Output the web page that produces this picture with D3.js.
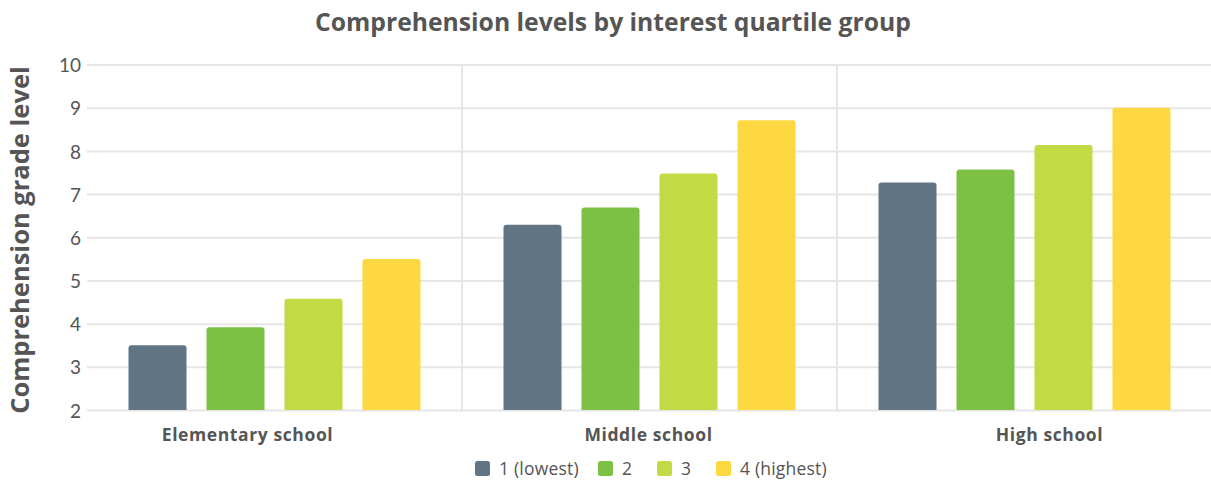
<!DOCTYPE html>
<html>
<head>
<meta charset="utf-8">
<script src="https://cdn.jsdelivr.net/npm/d3@7"></script>
<style>
  html, body { margin: 0; padding: 0; background: #fff; }
  svg { display: block; font-family: "Open Sans", sans-serif; }
</style>
</head>
<body>
<svg id="chart" width="1211" height="483"></svg>
<script>
const categories = ["Elementary school", "Middle school", "High school"];
const seriesNames = ["1 (lowest)", "2", "3", "4 (highest)"];
const q1 = [3.51, 6.30, 7.28];
const q2 = [3.93, 6.70, 7.58];
const q3 = [4.59, 7.49, 8.15];
const q4 = [5.51, 8.72, 9.01];
const yTicks = [2, 3, 4, 5, 6, 7, 8, 9, 10];
const colors = ["#627584", "#7cc144", "#c2da43", "#fed841"];

const seriesValues = [q1, q2, q3, q4];
const svg = d3.select("#chart");
const textColor = "#555555";
const gridColor = "#e6e6e6";

const x0 = d3.scaleBand().domain(categories).range([87, 1212]).padding(0);
const x1 = d3.scaleBand().domain(seriesNames).range([0, x0.bandwidth()])
  .paddingInner(0.256).paddingOuter(0.532);
const xLabel = d3.scaleBand().domain(categories).range([47, 1250]).padding(0);
const y = d3.scaleLinear().domain([2, 10]).range([410.5, 65]);

svg.append("g").selectAll("line").data(yTicks).join("line")
  .attr("x1", 87).attr("x2", 1211)
  .attr("y1", d => y(d)).attr("y2", d => y(d))
  .attr("stroke", gridColor).attr("stroke-width", 2);

svg.append("g").selectAll("line").data(categories.slice(1)).join("line")
  .attr("x1", d => x0(d)).attr("x2", d => x0(d))
  .attr("y1", y(10)).attr("y2", y(2))
  .attr("stroke", gridColor).attr("stroke-width", 2);

const yAxis = d3.axisLeft(y).tickValues(yTicks).tickSize(0).tickPadding(0);
const yg = svg.append("g").attr("transform", "translate(81,0)").call(yAxis);
yg.select(".domain").remove();
yg.selectAll("text").attr("fill", textColor).style("font-size", "19px")
  .style("font-family", "Lato, sans-serif").attr("dy", "0.35em");

function roundedTop(xp, yp, w, h, r) {
  r = Math.min(r, h);
  return `M${xp},${yp + h}V${yp + r}Q${xp},${yp} ${xp + r},${yp}H${xp + w - r}Q${xp + w},${yp} ${xp + w},${yp + r}V${yp + h}Z`;
}
const barData = [];
categories.forEach((c, i) => {
  seriesNames.forEach((s, j) => {
    barData.push({ cat: c, ser: s, val: seriesValues[j][i], color: colors[j] });
  });
});
svg.append("g").selectAll("path").data(barData).join("path")
  .attr("d", d => {
    const xp = x0(d.cat) + x1(d.ser);
    const yp = y(d.val);
    return roundedTop(xp, yp, x1.bandwidth(), y(2) - 0.5 - yp, 3);
  })
  .attr("fill", d => d.color);

const xAxis = d3.axisBottom(xLabel).tickSize(0).tickPadding(0);
const xg = svg.append("g").attr("transform", "translate(0,441)").call(xAxis);
xg.select(".domain").remove();
xg.selectAll("text").attr("fill", textColor).attr("dy", 0)
  .style("font-size", "17.5px").style("font-weight", "bold")
  .style("letter-spacing", "0.6px")
  .style("font-family", "'Open Sans', sans-serif");

svg.append("text").attr("x", 613).attr("y", 31).attr("text-anchor", "middle")
  .attr("fill", textColor).style("font-size", "24.7px").style("font-weight", "bold")
  .text("Comprehension levels by interest quartile group");

svg.append("text").attr("transform", "translate(29,240) rotate(-90)")
  .attr("text-anchor", "middle").attr("fill", textColor)
  .style("font-size", "25.5px").style("font-weight", "bold")
  .text("Comprehension grade level");

const legendX = [475, 598, 657, 716];
const lg = svg.append("g").selectAll("g").data(seriesNames).join("g")
  .attr("transform", (d, i) => `translate(${legendX[i]},461)`);
lg.append("rect").attr("width", 15).attr("height", 15).attr("rx", 2.5)
  .attr("fill", (d, i) => colors[i]);
lg.append("text").attr("x", 24).attr("y", 14).attr("fill", textColor)
  .style("font-size", "17.5px").style("letter-spacing", "0.2px")
  .style("font-family", "'Open Sans', sans-serif").text(d => d);
</script>
</body>
</html>
